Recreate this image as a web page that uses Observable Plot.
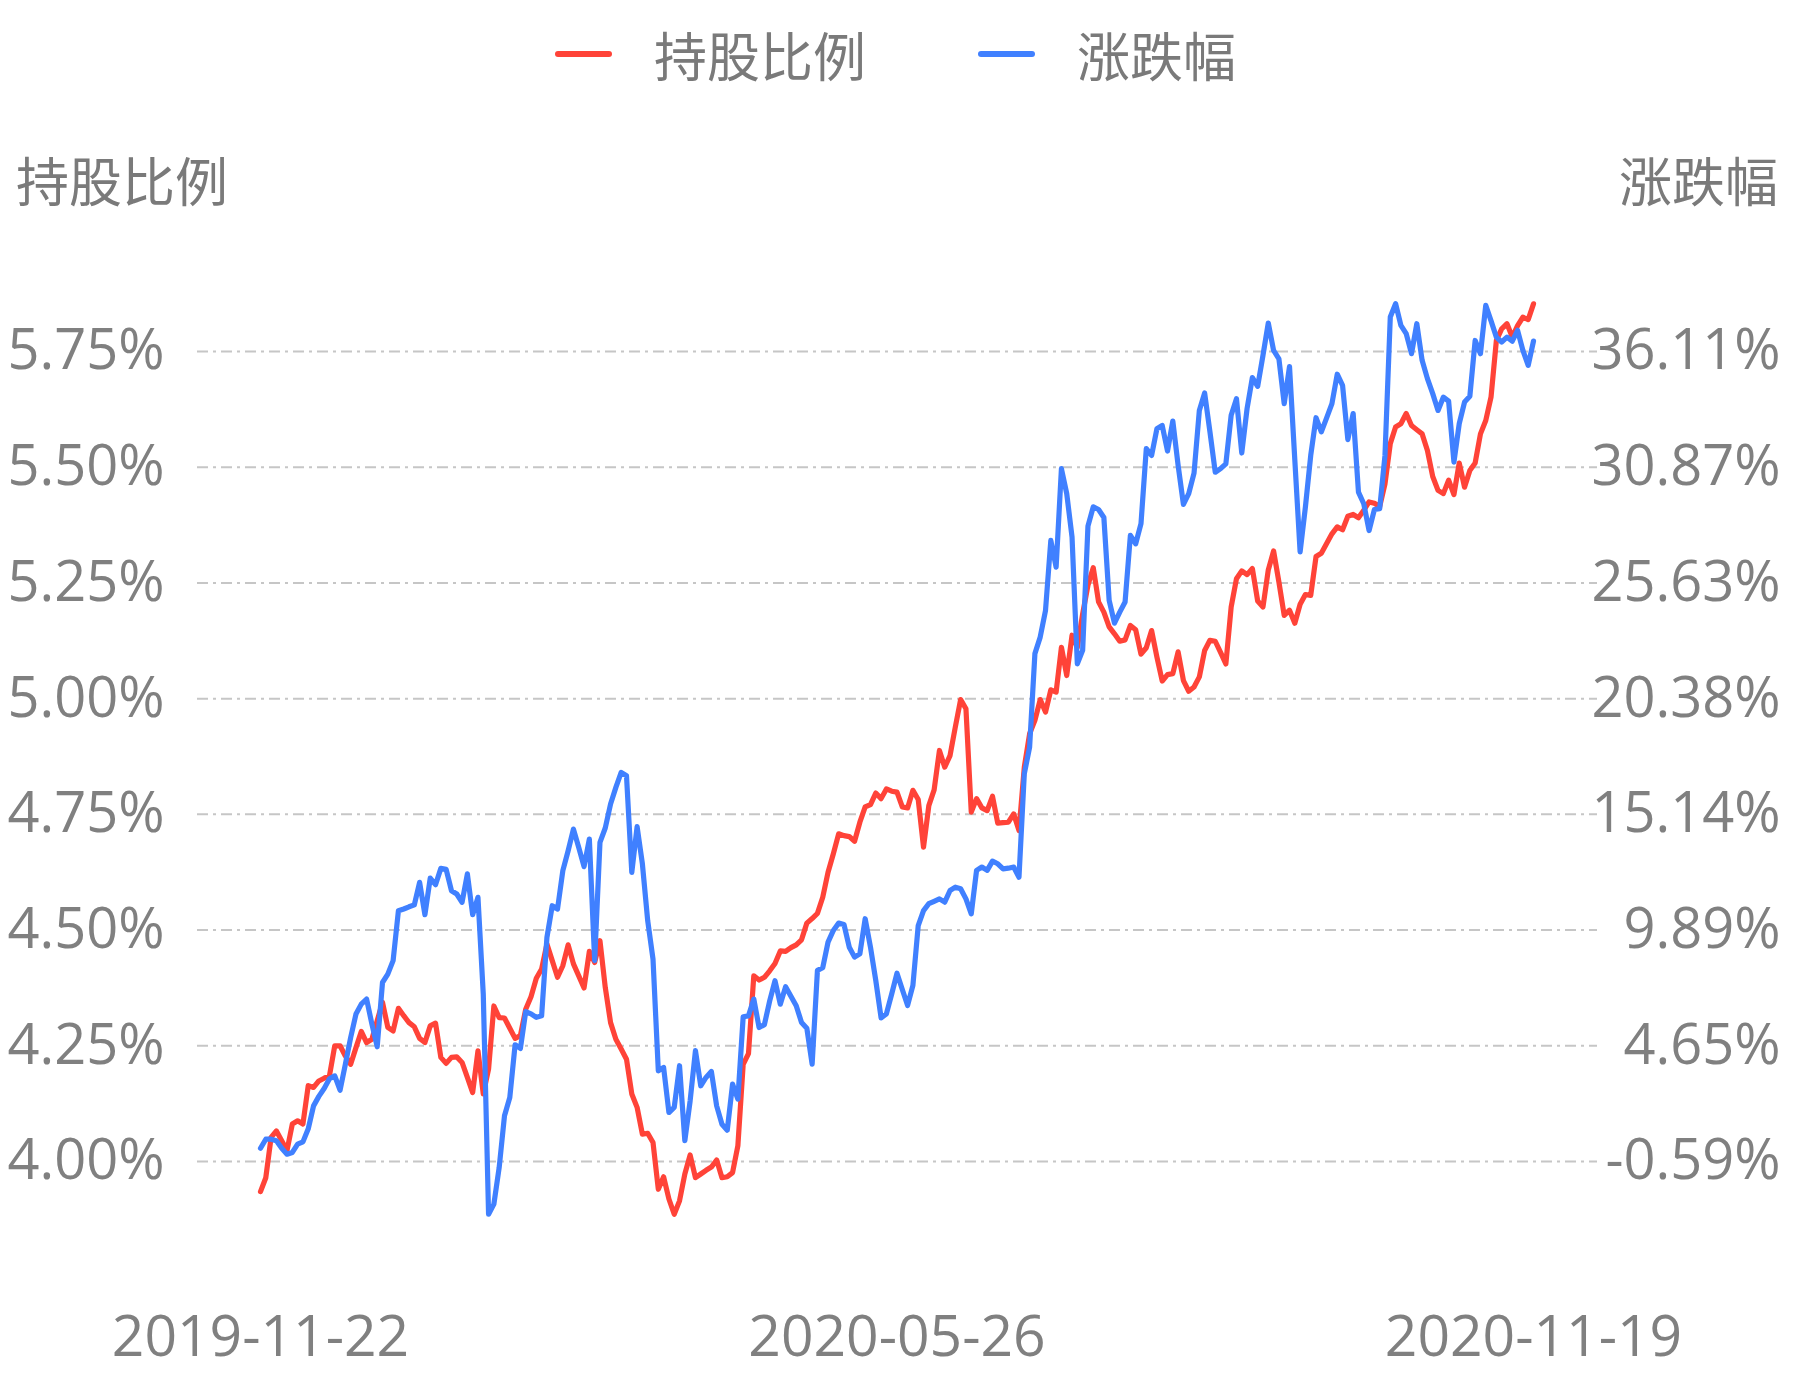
<!DOCTYPE html>
<html>
<head>
<meta charset="utf-8">
<script src="https://cdn.jsdelivr.net/npm/d3@7"></script>
<script src="https://cdn.jsdelivr.net/npm/@observablehq/plot@0.6"></script>
<style>
  html, body { margin: 0; padding: 0; background: #ffffff; }
  #wrap { position: relative; width: 1793px; height: 1380px; overflow: hidden; background: #fff; }
  .t { position: absolute; font-family: "Noto Sans CJK SC", "Noto Sans", sans-serif; font-size: 53px; line-height: 53px; color: #7a7a7a; white-space: nowrap; }
  .sw { position: absolute; height: 6px; border-radius: 3px; }
  #chart { position: absolute; left: 0; top: 110px; }
</style>
</head>
<body>
<div id="wrap">
  <div id="legend"></div>
  <div class="t" id="titleL" style="left:16px; top:153px;"></div>
  <div class="t" id="titleR" style="right:15px; top:153px; text-align:right;"></div>
  <div id="chart"></div>
</div>
<script>
// ---- data ----
const seriesNames = ["持股比例", "涨跌幅"];
const seriesColors = ["#ff4338", "#4080ff"];

// 持股比例 (%), one value per trading day
const holdRatio = [
  3.935,3.965,4.052,4.066,4.045,4.024,4.081,4.088,4.081,4.164,
  4.160,4.174,4.180,4.185,4.250,4.250,4.228,4.210,4.246,4.281,
  4.257,4.264,4.304,4.344,4.290,4.282,4.331,4.315,4.300,4.291,
  4.266,4.257,4.293,4.299,4.225,4.212,4.225,4.226,4.214,4.182,
  4.149,4.239,4.146,4.200,4.336,4.311,4.310,4.288,4.266,4.272,
  4.329,4.356,4.396,4.416,4.470,4.434,4.398,4.423,4.468,4.427,
  4.401,4.375,4.454,4.430,4.477,4.376,4.300,4.264,4.243,4.221,
  4.146,4.117,4.059,4.061,4.041,3.940,3.967,3.919,3.886,3.915,
  3.973,4.014,3.965,3.973,3.981,3.988,4.003,3.965,3.967,3.976,
  4.034,4.210,4.233,4.401,4.392,4.398,4.412,4.428,4.455,4.454,
  4.462,4.468,4.479,4.515,4.525,4.536,4.571,4.625,4.665,4.708,
  4.704,4.702,4.692,4.733,4.766,4.771,4.796,4.784,4.805,4.800,
  4.798,4.766,4.764,4.802,4.782,4.679,4.769,4.803,4.888,4.852,
  4.877,4.939,4.998,4.978,4.755,4.784,4.764,4.758,4.789,4.731,
  4.732,4.733,4.751,4.715,4.852,4.924,4.953,4.998,4.971,5.019,
  5.014,5.111,5.050,5.137,5.111,5.183,5.245,5.283,5.209,5.187,
  5.155,5.140,5.124,5.127,5.158,5.149,5.096,5.110,5.147,5.090,
  5.038,5.052,5.054,5.101,5.039,5.016,5.025,5.047,5.104,5.126,
  5.124,5.100,5.075,5.198,5.259,5.276,5.268,5.281,5.211,5.198,
  5.278,5.319,5.252,5.180,5.191,5.163,5.204,5.225,5.223,5.307,
  5.314,5.335,5.356,5.371,5.365,5.394,5.398,5.391,5.407,5.425,
  5.422,5.415,5.464,5.551,5.587,5.594,5.616,5.590,5.581,5.572,
  5.536,5.480,5.450,5.443,5.472,5.441,5.509,5.457,5.493,5.509,
  5.572,5.601,5.652,5.774,5.799,5.810,5.781,5.806,5.824,5.819,
  5.853
];

// 涨跌幅 (%), one value per trading day
const changePct = [
  0.01,0.42,0.42,0.35,0.01,-0.26,-0.18,0.20,0.30,0.89,
  1.93,2.36,2.72,3.16,3.29,2.64,3.82,5.03,6.09,6.54,
  6.77,5.64,4.61,7.52,7.90,8.51,10.77,10.85,10.95,11.04,
  12.06,10.59,12.25,11.95,12.69,12.65,11.68,11.53,11.15,12.44,
  10.59,11.38,6.99,-2.98,-2.52,-0.86,1.48,2.31,4.70,4.53,
  6.20,6.10,5.94,6.01,9.56,11.00,10.85,12.59,13.49,14.47,
  13.64,12.77,14.02,8.51,13.87,14.52,15.61,16.36,17.04,16.89,
  12.51,14.58,12.89,10.32,8.58,3.52,3.67,1.63,1.86,3.75,
  0.35,2.16,4.43,2.84,3.22,3.49,1.93,1.10,0.83,2.92,
  2.24,5.97,6.01,6.77,5.48,5.61,6.69,7.60,6.54,7.33,
  6.90,6.47,5.71,5.45,3.82,8.07,8.19,9.35,9.88,10.21,
  10.15,9.12,8.67,8.82,10.41,9.12,7.61,5.92,6.10,7.00,
  7.94,7.20,6.48,7.39,10.10,10.78,11.09,11.20,11.31,11.16,
  11.69,11.84,11.77,11.31,10.63,12.60,12.75,12.60,13.02,12.90,
  12.67,12.70,12.75,12.29,16.98,18.18,22.42,23.17,24.38,27.55,
  26.34,30.80,29.67,27.70,21.96,22.57,28.20,29.07,28.95,28.59,
  24.83,23.80,24.30,24.76,27.78,27.40,28.31,31.71,31.40,32.61,
  32.76,31.60,32.96,30.95,29.18,29.67,30.60,33.44,34.23,32.47,
  30.64,30.80,31.02,33.22,33.97,31.51,33.52,34.93,34.53,35.94,
  37.40,36.16,35.78,33.75,35.43,31.20,27.03,29.07,31.40,33.11,
  32.47,33.10,33.75,35.08,34.58,32.12,33.30,29.74,29.21,28.00,
  28.95,28.99,31.40,37.67,38.28,37.29,36.92,36.01,37.37,35.71,
  34.88,34.20,33.44,34.04,33.86,31.10,32.84,33.82,34.08,36.61,
  36.01,38.20,37.50,36.76,36.54,36.76,36.58,37.07,36.16,35.48,
  36.58
];

// axis ticks
const leftTicks = [4.00, 4.25, 4.50, 4.75, 5.00, 5.25, 5.50, 5.75];
const leftTickLabels = ["4.00%","4.25%","4.50%","4.75%","5.00%","5.25%","5.50%","5.75%"];
const rightTicks = [-0.59, 4.65, 9.89, 15.14, 20.38, 25.63, 30.87, 36.11];
const rightTickLabels = ["-0.59%","4.65%","9.89%","15.14%","20.38%","25.63%","30.87%","36.11%"];
const xTickIndex = [0, 120, 240];
const xTickLabels = ["2019-11-22", "2020-05-26", "2020-11-19"];

// ---- build ----
const N = holdRatio.length;
const rMin = rightTicks[0], rMax = rightTicks[rightTicks.length - 1];
const lMin = leftTicks[0], lMax = leftTicks[leftTicks.length - 1];
// map right-axis value onto the left-axis scale (dual axis)
const toLeft = r => lMin + (r - rMin) / (rMax - rMin) * (lMax - lMin);

const rows = d3.range(N).map(i => ({ i, hold: holdRatio[i], chg: toLeft(changePct[i]) }));

// legend & axis titles
const legend = document.getElementById("legend");
const legendPos = [{ sw: 555, tx: 654 }, { sw: 978, tx: 1077 }];
seriesNames.forEach((name, k) => {
  const s = document.createElement("div");
  s.className = "sw";
  s.style.cssText = `left:${legendPos[k].sw}px; top:51px; width:57px; background:${seriesColors[k]};`;
  legend.appendChild(s);
  const t = document.createElement("div");
  t.className = "t";
  t.style.cssText = `left:${legendPos[k].tx}px; top:28px;`;
  t.textContent = name;
  legend.appendChild(t);
});
document.getElementById("titleL").textContent = seriesNames[0];
document.getElementById("titleR").textContent = seriesNames[1];

const fontNum = "'Open Sans','Noto Sans','Noto Sans CJK SC',sans-serif";
const H = 1270;
const yOf = v => 1051 - (v - 4) / 0.25 * 115.714; // pixel design for range only
const chart = Plot.plot({
  width: 1793,
  height: H,
  marginLeft: 197,
  marginRight: 196,
  marginTop: 0,
  marginBottom: 0,
  style: { background: "transparent", overflow: "visible" },
  x: { domain: [0, N - 1], range: [260, 1533], axis: null },
  y: { domain: [3.8, 5.9], range: [yOf(3.8), yOf(5.9)], axis: null },
  marks: [
    Plot.ruleY(leftTicks, { stroke: "#c6c6c6", strokeWidth: 2, strokeDasharray: "11,5,3,5" }),
    Plot.line(rows, { x: "i", y: "hold", stroke: seriesColors[0], strokeWidth: 5.2, strokeLinejoin: "round" }),
    Plot.line(rows, { x: "i", y: "chg", stroke: seriesColors[1], strokeWidth: 5.2, strokeLinejoin: "round" }),
    Plot.text(leftTicks, {
      y: d => d, text: (d, k) => leftTickLabels[k], frameAnchor: "left", dx: -33,
      textAnchor: "end", lineAnchor: "middle", fontSize: 56, fill: "#808080", fontFamily: fontNum
    }),
    Plot.text(rightTicks, {
      y: d => toLeft(d), text: (d, k) => rightTickLabels[k], frameAnchor: "right", dx: 183,
      textAnchor: "end", lineAnchor: "middle", fontSize: 56, fill: "#808080", fontFamily: fontNum
    }),
    Plot.text(xTickIndex, {
      x: d => d, text: (d, k) => xTickLabels[k], frameAnchor: "bottom", dy: -43,
      textAnchor: "middle", lineAnchor: "middle", fontSize: 57, fill: "#808080", fontFamily: fontNum
    })
  ]
});
document.getElementById("chart").appendChild(chart);
</script>
</body>
</html>
